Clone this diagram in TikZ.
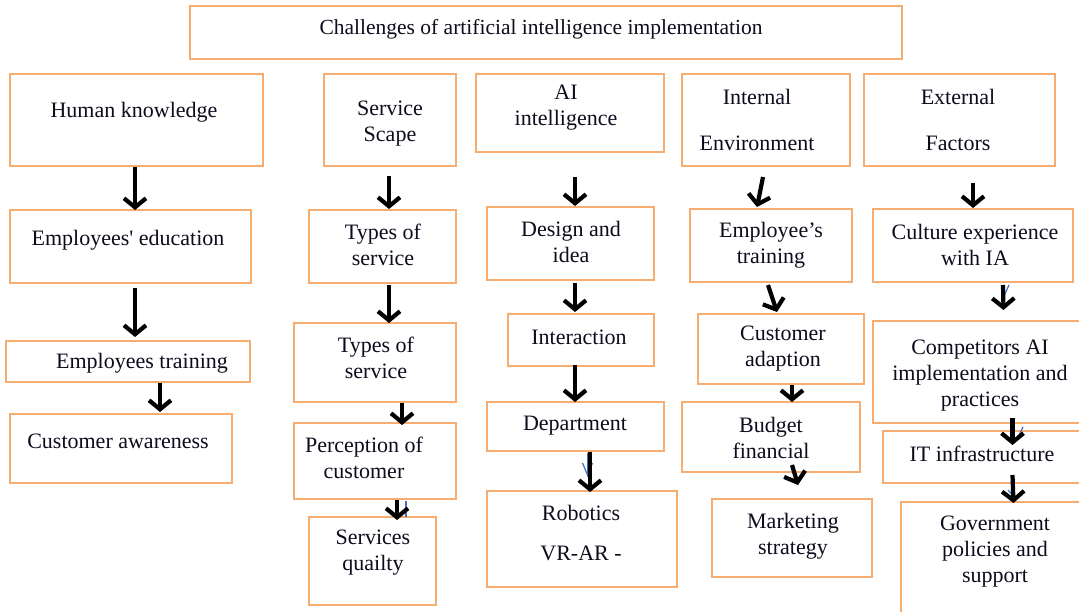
\documentclass[tikz,border=0pt]{standalone}
\usepackage{fontspec}
\setmainfont{Liberation Serif}
\newfontfamily\plainserif{Liberation Serif}
\usetikzlibrary{arrows.meta}
\definecolor{boxline}{RGB}{247,172,112}
\definecolor{txtcol}{RGB}{12,12,28}
\definecolor{bluemark}{RGB}{70,110,190}
\tikzset{
  box/.style={draw=boxline, line width=1.2pt, inner sep=0pt, outer sep=0pt, anchor=north west, fill=white},
  txt/.style={text=txtcol, align=center, inner sep=0pt, font=\fontsize{22}{26}\selectfont},
  arr/.style={line width=4.2pt, black, -{Straight Barb[length=9pt,width=22pt]}},
  bmark/.style={bluemark, line width=1.2pt}
}
\newcommand{\bx}[5]{\node[box, minimum width=#4pt-#2pt, minimum height=#5pt-#3pt] (#1) at (#2,#3) {};}
\begin{document}
\begin{tikzpicture}[x=1pt,y=-1pt]
\useasboundingbox (0,0) rectangle (1079,612);
\clip (0,0) rectangle (1079,612);
% boxes
\bx{title}{190}{6}{902}{59}
\bx{hk}{10}{74}{263}{166}
\bx{ss}{324}{74}{456}{166}
\bx{ai}{476}{74}{664}{152}
\bx{ie}{682}{74}{850}{166}
\bx{ef}{864}{74}{1055}{166}
\bx{ee}{10}{210}{251}{283}
\bx{tsa}{309}{210}{456}{283}
\bx{di}{487}{207}{654}{280}
\bx{et}{690}{209}{852}{282}
\bx{ce}{873}{209}{1073}{282}
\bx{etr}{6}{341}{250}{382}
\bx{tsb}{294}{323}{456}{402}
\bx{int}{508}{314}{654}{366}
\bx{cad}{698}{314}{864}{384}
\bx{comp}{873}{321}{1085}{423}
\bx{caw}{10}{414}{232}{483}
\bx{poc}{294}{423}{456}{499}
\bx{dep}{487}{402}{664}{451}
\bx{bf}{682}{402}{860}{472}
\bx{it}{883}{431}{1085}{483}
\bx{sq}{309}{517}{436}{605}
\bx{rob}{487}{491}{677}{587}
\bx{ms}{712}{499}{872}{577}
\bx{gov}{901}{502}{1085}{620}
% texts
\begin{scope}[yshift=-2pt]
\node[txt, font=\fontsize{21.5}{26}\selectfont] (t-title) at (541,27) {Challenges of artificial intelligence implementation};
\node[txt] (t-hk) at (134,110) {Human knowledge};
\node[txt] (t-ss) at (390,122) {Service\\Scape};
\node[txt] (t-ai) at (566,106) {AI\\intelligence};
\node[txt] (t-ie) at (757,118) {Internal\\[20pt]Environment};
\node[txt] (t-ef) at (958,118) {External\\[20pt]Factors};
\node[txt] (t-ee) at (128,238) {Employees{\plainserif'} education};
\node[txt] (t-tsa) at (383,243) {Types of\\service};
\node[txt] (t-di) at (571,240) {Design and\\idea};
\node[txt] (t-et) at (771,243) {Employee’s\\training};
\node[txt] (t-ce) at (975,243) {Culture experience\\with IA};
\node[txt] (t-etr) at (142,361) {Employees training};
\node[txt] (t-tsb) at (376,356) {Types of\\service};
\node[txt] (t-int) at (579,335) {Interaction};
\node[txt] (t-cad) at (783,347) {Customer\\adaption};
\node[txt] (t-comp) at (980,374) {Competitors AI\\implementation and\\practices};
\node[txt] (t-caw) at (118,439) {Customer awareness};
\node[txt] (t-poc) at (364,456) {Perception of\\customer};
\node[txt] (t-dep) at (575,424) {Department};
\node[txt] (t-bf) at (771,436) {Budget\\financial};
\node[txt] (t-it) at (982,452) {IT infrastructure};
\node[txt] (t-sq) at (373,551) {Services\\quailty};
\node[txt] (t-rob) at (581,531) {Robotics\\[14pt]VR-AR -};
\node[txt] (t-ms) at (793,534) {Marketing\\strategy};
\node[txt] (t-gov) at (995,550) {Government\\policies and\\support};
\end{scope}
% small blue marks
\draw[bmark] ([xshift=12pt,yshift=-2pt]dep.south) -- ([xshift=12pt,yshift=-26pt]dep.south);
\draw[bmark] ([xshift=7pt,yshift=-12pt]dep.south) -- ([xshift=12pt,yshift=-24pt]dep.south) -- ([xshift=17pt,yshift=-12pt]dep.south);
\draw[bmark] ([xshift=31pt,yshift=-2pt]poc.south) -- ([xshift=31pt,yshift=-18pt]poc.south);
\draw[bmark] ([xshift=36pt,yshift=-3pt]ce.south) -- ([xshift=31pt,yshift=-14pt]ce.south);
\draw[bmark] ([xshift=44pt,yshift=-4pt]comp.south) -- ([xshift=39pt,yshift=-14pt]comp.south);
\draw[bmark] ([xshift=24pt,yshift=-7pt]it.south) -- ([xshift=30pt,yshift=-14pt]it.south);
% arrows
\draw[arr] ([xshift=-1.5pt,yshift=-1pt]hk.south) -- ([xshift=4.5pt,yshift=0pt]ee.north);
\draw[arr] ([xshift=4.5pt,yshift=-5pt]ee.south) -- ([xshift=7pt,yshift=4pt]etr.north);
\draw[arr] ([xshift=32pt,yshift=-1pt]etr.south) -- ([xshift=39pt,yshift=2pt]caw.north);
\draw[arr] ([xshift=-1pt,yshift=-10pt]ss.south) -- ([xshift=6.5pt,yshift=1pt]tsa.north);
\draw[arr] ([xshift=6.5pt,yshift=-2pt]tsa.south) -- ([xshift=14pt,yshift=0pt]tsb.north);
\draw[arr] ([xshift=27pt,yshift=-1pt]tsb.south) -- ([xshift=27pt,yshift=-2pt]poc.north);
\draw[arr] ([xshift=22pt,yshift=-1pt]poc.south) -- ([xshift=24.5pt,yshift=-3pt]sq.north);
\draw[arr] ([xshift=5pt,yshift=-25pt]ai.south) -- ([xshift=4.5pt,yshift=1pt]di.north);
\draw[arr] ([xshift=4.5pt,yshift=-3pt]di.south) -- ([xshift=-6pt,yshift=2pt]int.north);
\draw[arr] ([xshift=-6pt,yshift=1pt]int.south) -- ([xshift=-0.5pt,yshift=0pt]dep.north);
\draw[arr] ([xshift=14.5pt,yshift=-1pt]dep.south) -- ([xshift=8pt,yshift=-1pt]rob.north);
\draw[arr] ([xshift=-3pt,yshift=-11pt]ie.south) -- ([xshift=-14pt,yshift=2pt]et.north);
\draw[arr] ([xshift=-3pt,yshift=-3pt]et.south) -- ([xshift=-4pt,yshift=2pt]cad.north);
\draw[arr] ([xshift=11pt,yshift=-1pt]cad.south) -- ([xshift=21pt,yshift=0pt]bf.north);
\draw[arr] ([xshift=21pt,yshift=7pt]bf.south) -- ([xshift=6pt,yshift=14pt]ms.north);
\draw[arr] ([xshift=13.5pt,yshift=-17pt]ef.south) -- ([xshift=0pt,yshift=1pt]ce.north);
\draw[arr] ([xshift=30pt,yshift=-3pt]ce.south) -- ([xshift=24.5pt,yshift=11pt]comp.north);
\draw[arr] ([xshift=33.5pt,yshift=5pt]comp.south) -- ([xshift=28.5pt,yshift=-14pt]it.north);
\draw[arr] ([xshift=28.5pt,yshift=8pt]it.south) -- ([xshift=20.5pt,yshift=-1pt]gov.north);
\end{tikzpicture}
\end{document}
